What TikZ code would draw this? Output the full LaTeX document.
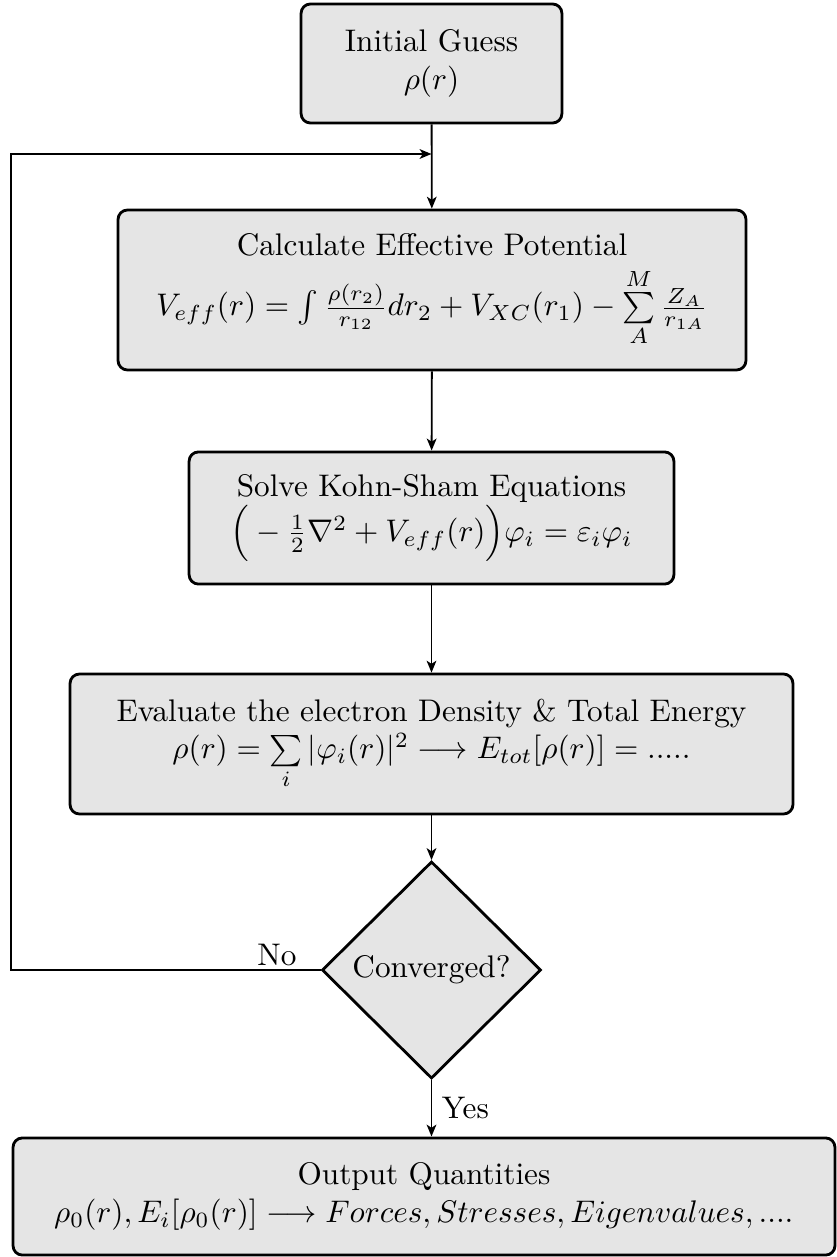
\documentclass[tikz,border=0pt]{standalone}
\usetikzlibrary{shapes.geometric,arrows.meta}
\begin{document}
\begin{tikzpicture}[x=0.3201pt,y=-0.3201pt,
  box/.style={draw, line width=0.9pt, rounded corners=3pt, fill=gray!20, align=center, inner sep=0pt},
  decision/.style={diamond, aspect=1, draw, line width=0.9pt, fill=gray!20, inner sep=0pt, minimum width=70.1pt, minimum height=69.5pt},
  conn/.style={line width=0.6pt, -{Stealth[length=3.8pt,width=3.1pt,inset=1pt]}}]
\useasboundingbox (0,0) rectangle (837,1257);
\node[box, minimum width=83.5pt, minimum height=38.1pt] (init) at (431.5,63.5) {Initial Guess\\ $\rho(r)$};
\node[box, minimum width=201pt, minimum height=51.2pt] (eff) at (432,290) {Calculate Effective Potential\\[3pt] $V_{eff}(r) = \int \frac{\rho(r_2)}{r_{12}} dr_2 + V_{XC}(r_1) - \sum\limits_{A}^{M} \frac{Z_A}{r_{1A}}$};
\node[box, minimum width=155.2pt, minimum height=42.3pt] (ks) at (431.5,518) {Solve Kohn-Sham Equations\\ $\Big( - \frac{1}{2}\nabla^2 + V_{eff}(r)\Big)\varphi_i = \varepsilon_i\varphi_i$};
\node[box, minimum width=231.4pt, minimum height=44.8pt] (dens) at (431.5,744) {Evaluate the electron Density \& Total Energy\\ $\rho(r) = \sum\limits_{i} |\varphi_i(r)|^2 \longrightarrow E_{tot}[\rho(r)] = .....$};
\node[decision] (conv) at (431.5,970) {Converged?};
\node[box, minimum width=263.1pt, minimum height=37.5pt] (out) at (424,1196.5) {Output Quantities\\ $\rho_0(r), E_i[\rho_0(r)] \longrightarrow Forces, Stresses, Eigenvalues, ....$};
\coordinate (join) at (431.5,154);
\coordinate (fbcorner) at (11,970);
\draw[conn] (init) -- (eff);
\draw[conn] (eff) -- (ks);
\draw[conn] (ks) -- (dens);
\draw[conn] (dens) -- (conv);
\draw[conn] (conv.south) -- node[right, inner sep=3pt] (yeslab) {Yes} (conv.south |- out.north);
\draw[conn] (conv.west) -- (fbcorner) |- (join);
\node[anchor=south east, inner sep=0pt] (nolab) at (297,966) {No};
\end{tikzpicture}
\end{document}
